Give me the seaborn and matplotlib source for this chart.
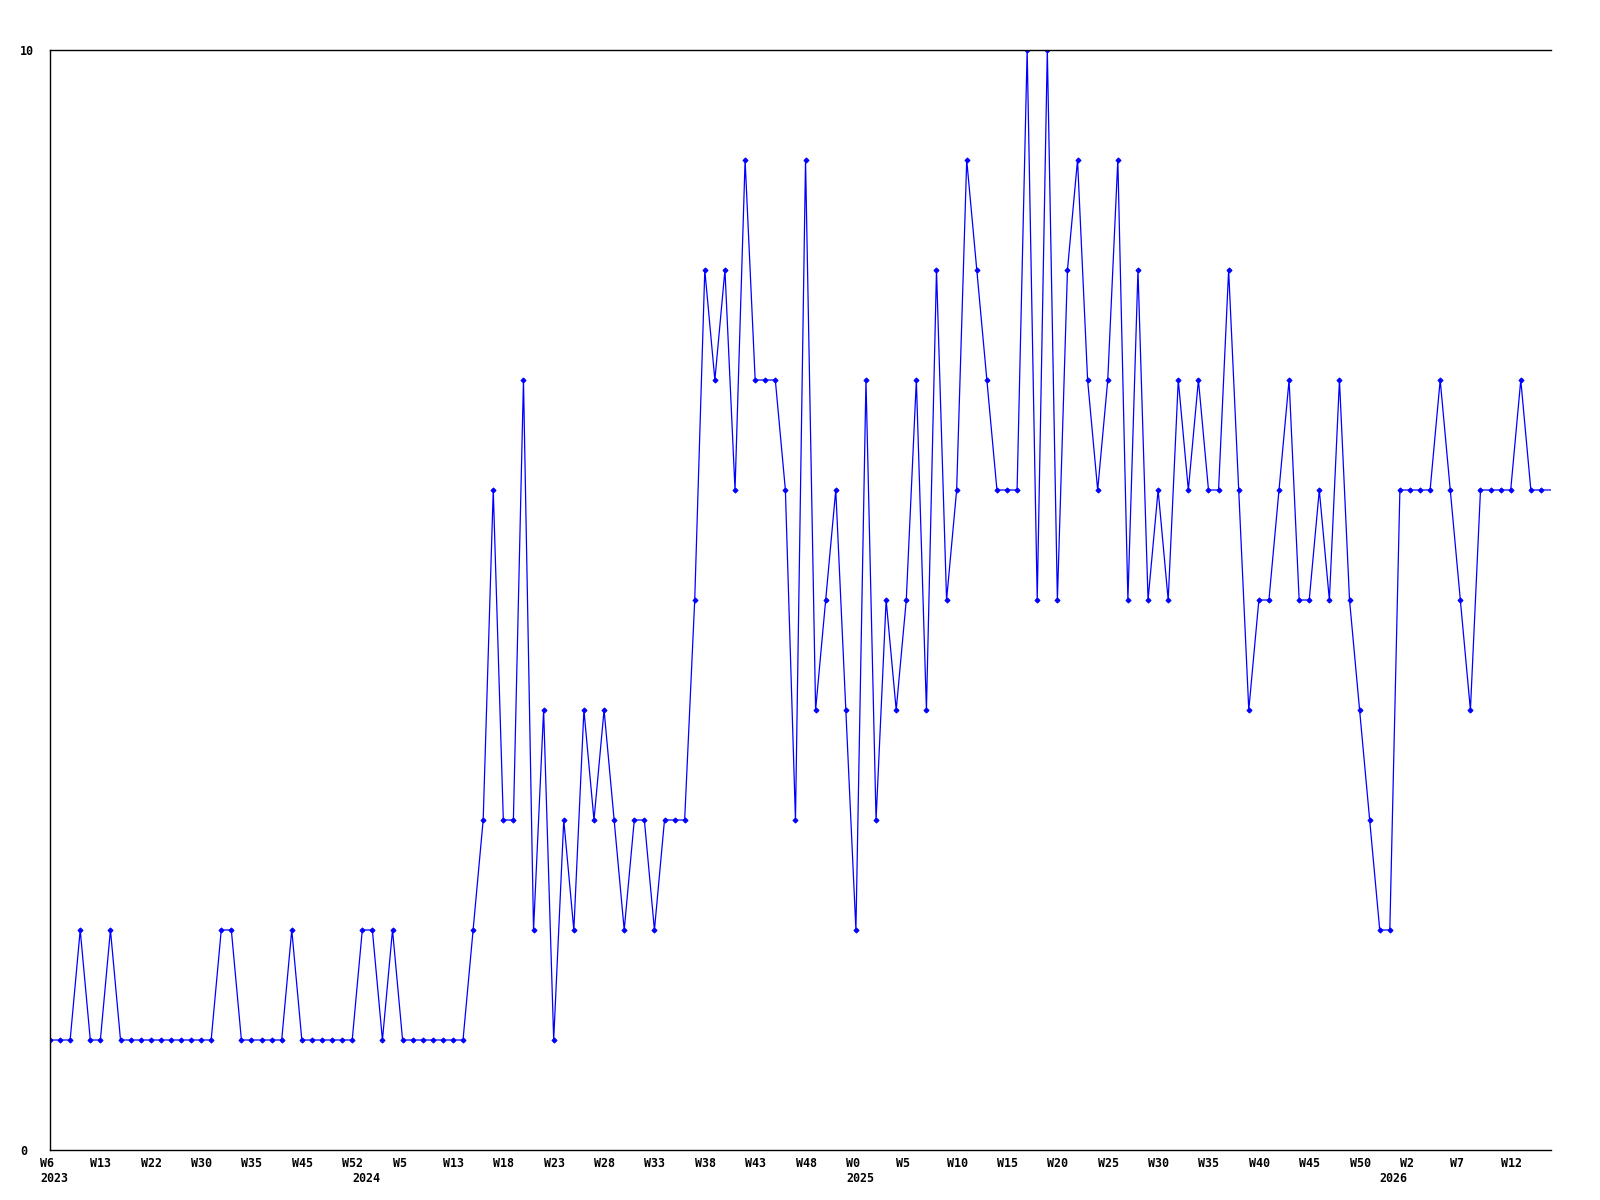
import matplotlib
matplotlib.use("Agg")
import matplotlib.pyplot as plt
import matplotlib.transforms as mtransforms
import seaborn as sns
import numpy as np

# weekly counts, one value per week that has data
counts = [1, 1, 1, 2, 1, 1, 2, 1, 1, 1,
          1, 1, 1, 1, 1, 1, 1, 2, 2, 1,
          1, 1, 1, 1, 2, 1, 1, 1, 1, 1,
          1, 2, 2, 1, 2, 1, 1, 1, 1, 1,
          1, 1, 2, 3, 6, 3, 3, 7, 2, 4,
          1, 3, 2, 4, 3, 4, 3, 2, 3, 3,
          2, 3, 3, 3, 5, 8, 7, 8, 6, 9,
          7, 7, 7, 6, 3, 9, 4, 5, 6, 4,
          2, 7, 3, 5, 4, 5, 7, 4, 8, 5,
          6, 9, 8, 7, 6, 6, 6, 10, 5, 10,
          5, 8, 9, 7, 6, 7, 9, 5, 8, 5,
          6, 5, 7, 6, 7, 6, 6, 8, 6, 4,
          5, 5, 6, 7, 5, 5, 6, 5, 7, 5,
          4, 3, 2, 2, 6, 6, 6, 6, 7, 6,
          5, 4, 6, 6, 6, 6, 7, 6, 6, 6]

# every 5th point gets its week label
week_labels = ["W6", "W13", "W22", "W30", "W35", "W45", "W52", "W5", "W13", "W18",
               "W23", "W28", "W33", "W38", "W43", "W48", "W0", "W5", "W10", "W15",
               "W20", "W25", "W30", "W35", "W40", "W45", "W50", "W2", "W7", "W12"]
years = ["2023", "2024", "2025", "2026"]
year_start = [0, 31, 80, 133]   # index of first week of each year

x = np.arange(len(counts))
tick_pos = x[::5]

fig = plt.figure(figsize=(16, 12), dpi=100)
ax = fig.add_axes([50 / 1600, 1 - 1150 / 1200, 1501 / 1600, 1100 / 1200])

sns.lineplot(x=x, y=counts, ax=ax, color="#0000ff", linewidth=0.9,
             marker="D", markersize=2.6, markeredgewidth=0.7, markeredgecolor="#0000ff",
             markevery=list(range(len(counts) - 1)))

ax.set_xlim(0, len(counts) - 1)
ax.set_ylim(0, 10)

for side in ["left", "bottom", "top"]:
    ax.spines[side].set_color("black")
    ax.spines[side].set_linewidth(1.0)
ax.spines["right"].set_visible(False)

font = dict(family="DejaVu Sans Mono", weight="bold", size=8.4)

ax.set_xticks(tick_pos)
ax.set_xticklabels(week_labels, ha="left", **font)
ax.tick_params(axis="x", length=0, pad=5)
shift = mtransforms.ScaledTranslation(-10 / 100, 0, fig.dpi_scale_trans)
for lbl in ax.get_xticklabels():
    lbl.set_transform(lbl.get_transform() + shift)

ax.set_yticks([0, 10])
ax.set_yticklabels(["0", "10"], ha="left", **font)
ax.tick_params(axis="y", length=0, pad=21.6)

trans = ax.get_xaxis_transform() + mtransforms.ScaledTranslation(-10 / 100, -22 / 100, fig.dpi_scale_trans)
for yr, pos in zip(years, year_start):
    ax.text(pos, 0, yr, transform=trans, ha="left", va="top", **font)

ax.set_xlabel("")
ax.set_ylabel("")

fig.savefig("out.png", dpi=100, facecolor="white")
